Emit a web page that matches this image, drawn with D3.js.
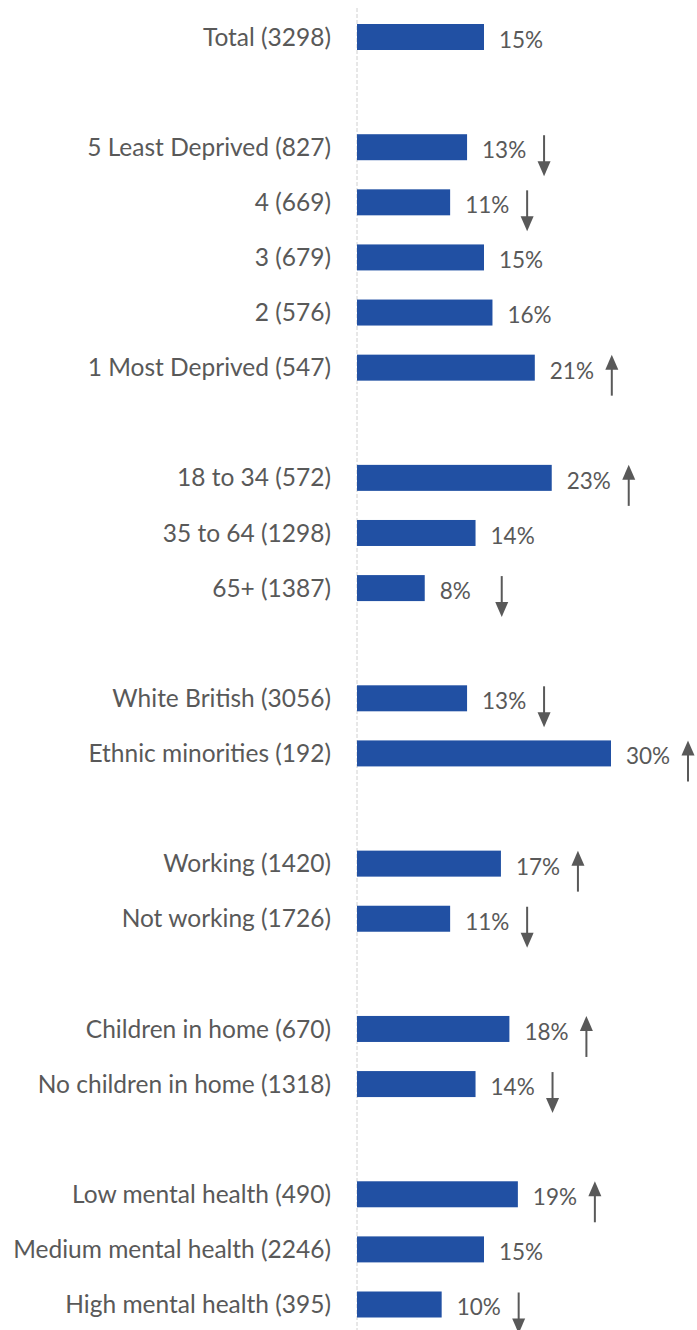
<!DOCTYPE html>
<html>
<head>
<meta charset="utf-8">
<script src="https://cdn.jsdelivr.net/npm/d3@7"></script>
<style>
  html, body { margin: 0; padding: 0; background: #fff; }
  svg { display: block; }
  text { font-family: Lato, "Open Sans", sans-serif; fill: #595959; }
</style>
</head>
<body>
<div id="chart"></div>
<script>
// Row labels, grouped; an empty slot is left between groups
const categories = [
  "Total (3298)",
  "5 Least Deprived (827)", "4 (669)", "3 (679)", "2 (576)", "1 Most Deprived (547)",
  "18 to 34 (572)", "35 to 64 (1298)", "65+ (1387)",
  "White British (3056)", "Ethnic minorities (192)",
  "Working (1420)", "Not working (1726)",
  "Children in home (670)", "No children in home (1318)",
  "Low mental health (490)", "Medium mental health (2246)", "High mental health (395)"
];
const groups = [0, 1, 1, 1, 1, 1, 2, 2, 2, 3, 3, 4, 4, 5, 5, 6, 6, 6];
// Percentage values
const values = [15, 13, 11, 15, 16, 21, 23, 14, 8, 13, 30, 17, 11, 18, 14, 19, 15, 10];
// Significance direction: 1 = higher than total, -1 = lower, 0 = no difference
const trend = [0, -1, -1, 0, 0, 1, 1, 0, -1, -1, 1, 1, -1, 1, -1, 1, 0, -1];

const W = 697, H = 1330;
const svg = d3.select("#chart").append("svg").attr("width", W).attr("height", H);

// Slot keys with a blank slot between groups
const slots = [];
categories.forEach((c, i) => {
  if (i > 0 && groups[i] !== groups[i - 1]) slots.push("gap" + groups[i]);
  slots.push("row" + i);
});

const y = d3.scalePoint().domain(slots).range([37, 1304.5]);
const x = d3.scaleLinear().domain([0, 30]).range([357, 611]);
const barH = 26;

// Baseline (dashed)
svg.append("line")
  .attr("x1", x(0)).attr("x2", x(0))
  .attr("y1", 8).attr("y2", H)
  .attr("stroke", "#d0d0d0").attr("stroke-width", 1)
  .attr("stroke-dasharray", "4,2");

const rows = categories.map((c, i) => ({ label: c, value: values[i], trend: trend[i], key: "row" + i }));

// Category labels
svg.append("g").selectAll("text").data(rows).join("text")
  .attr("x", 331)
  .attr("y", d => y(d.key))
  .attr("dy", "0.35em")
  .attr("text-anchor", "end")
  .attr("font-size", 24.5)
  .text(d => d.label);

// Bars
svg.append("g").selectAll("rect").data(rows).join("rect")
  .attr("x", x(0))
  .attr("y", d => y(d.key) - barH / 2)
  .attr("width", d => x(d.value) - x(0))
  .attr("height", barH)
  .attr("fill", "#2150a3");

// Value labels
svg.append("g").selectAll("text").data(rows).join("text")
  .attr("x", d => x(d.value) + 15)
  .attr("y", d => y(d.key) + 3)
  .attr("dy", "0.35em")
  .attr("font-size", 22.5)
  .text(d => d.value + "%");

// Trend arrows
const arrows = svg.append("g").selectAll("g").data(rows.filter(d => d.trend !== 0)).join("g")
  .attr("transform", d => `translate(${x(d.value) + 77},${y(d.key) + 8})`);

arrows.append("line")
  .attr("x1", 0).attr("x2", 0)
  .attr("y1", d => d.trend > 0 ? -8 : -20)
  .attr("y2", d => d.trend > 0 ? 20 : 8)
  .attr("stroke", "#595959").attr("stroke-width", 2);

arrows.append("path")
  .attr("d", d => d.trend > 0
    ? "M0,-21 L-6.5,-6 L6.5,-6 Z"
    : "M0,21 L-6.5,6 L6.5,6 Z")
  .attr("fill", "#595959");
</script>
</body>
</html>
